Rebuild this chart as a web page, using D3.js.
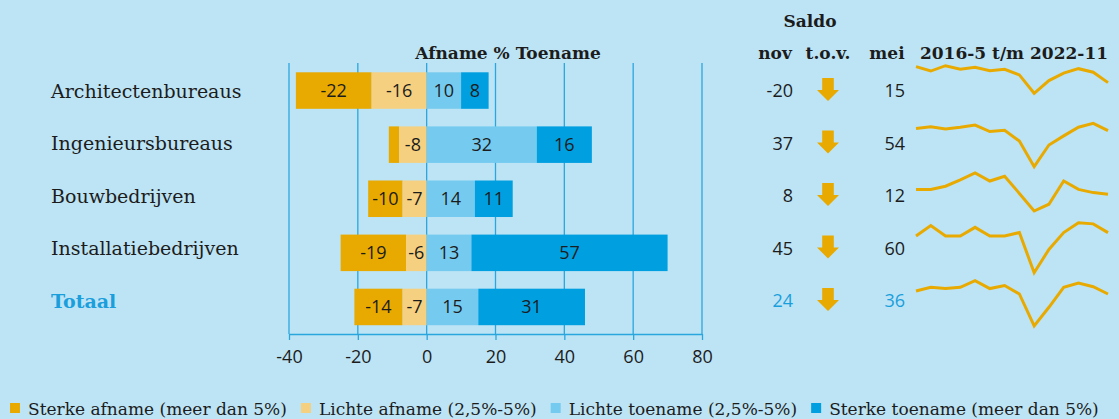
<!DOCTYPE html>
<html>
<head>
<meta charset="utf-8">
<script src="https://cdn.jsdelivr.net/npm/d3@7"></script>
<style>
  html, body { margin: 0; padding: 0; background: #bde4f5; }
  svg { display: block; }
</style>
</head>
<body>
<svg id="chart" width="1119" height="419"></svg>
<script>
// data
const categories = ["Architectenbureaus", "Ingenieursbureaus", "Bouwbedrijven", "Installatiebedrijven", "Totaal"];
const series = ["Sterke afname (meer dan 5%)", "Lichte afname (2,5%-5%)", "Lichte toename (2,5%-5%)", "Sterke toename (meer dan 5%)"];
const sterkeAfname = [-22, -3, -10, -19, -14];
const lichteAfname = [-16, -8, -7, -6, -7];
const lichteToename = [10, 32, 14, 13, 15];
const sterkeToename = [8, 16, 11, 57, 31];
const saldoNov = [-20, 37, 8, 45, 24];
const saldoMei = [15, 54, 12, 60, 36];
const xTicks = [-40, -20, 0, 20, 40, 60, 80];
const periods = ["2016-5", "2016-11", "2017-5", "2017-11", "2018-5", "2018-11", "2019-5",
  "2019-11", "2020-5", "2020-11", "2021-5", "2021-11", "2022-5", "2022-11"];
const sparkArch = [34, 19, 37, 25, 32, 20, 25, 6, -56, -13, 12, 27, 15, -20];
const sparkIng = [42, 46, 41, 45, 50, 35, 38, 13, -46, 4, 25, 45, 54, 37];
const sparkBouw = [20, 20, 28, 44, 61, 41, 53, 10, -34, -17, 41, 20, 12, 8];
const sparkInst = [39, 57, 39, 39, 54, 39, 39, 45, -24, 16, 45, 62, 60, 45];
const sparkTot = [29, 35, 33, 35, 46, 33, 38, 24, -29, 2, 35, 42, 36, 24];

// kleuren en layout
const colors = ["#e8aa00", "#f5d080", "#75cbef", "#009fe0"];
const blue = "#1a9fdc";
const dark = "#1c1c1c";
const serif = "'DejaVu Serif', serif";
const sans = "'Open Sans', sans-serif";
// verticale ruimte per sparkline (boven, onder)
const sparkBands = [[65.7, 93.3], [123.3, 166.7], [173, 211], [222.7, 272.7], [280.7, 326]];

const svg = d3.select("#chart");

const x = d3.scaleLinear().domain([-40, 80]).range([289, 702]);
const yBar = d3.scaleBand().domain(categories).range([63.5, 334])
  .paddingInner(0.325).paddingOuter(0.1625);
const yLabel = d3.scalePoint().domain(categories).range([91, 301]);

// rasterlijnen
svg.append("g")
  .selectAll("line")
  .data(xTicks)
  .join("line")
  .attr("x1", d => x(d)).attr("x2", d => x(d))
  .attr("y1", 63).attr("y2", 334)
  .attr("stroke", "#2aa6de").attr("stroke-width", 1.3);

// x-as
const axis = svg.append("g")
  .attr("transform", "translate(0,334)")
  .call(d3.axisBottom(x).tickValues(xTicks).tickFormat(d => String(d))
    .tickSize(6).tickSizeOuter(0).tickPadding(10));
axis.select(".domain").attr("stroke", "#2aa6de").attr("stroke-width", 1.5);
axis.selectAll(".tick line").attr("stroke", "#2aa6de").attr("stroke-width", 1.3);
axis.selectAll("text")
  .attr("fill", dark)
  .style("font-family", sans)
  .style("font-size", "18px");

// gestapelde balken
const rows = categories.map((c, i) => {
  const neg = [sterkeAfname[i], lichteAfname[i]];
  const pos = [lichteToename[i], sterkeToename[i]];
  return [
    { cat: c, k: 0, x0: neg[0] + neg[1], x1: neg[1], v: neg[0] },
    { cat: c, k: 1, x0: neg[1], x1: 0, v: neg[1] },
    { cat: c, k: 2, x0: 0, x1: pos[0], v: pos[0] },
    { cat: c, k: 3, x0: pos[0], x1: pos[0] + pos[1], v: pos[1] }
  ];
}).flat();

svg.append("g")
  .selectAll("rect")
  .data(rows)
  .join("rect")
  .attr("x", d => x(Math.min(d.x0, d.x1)))
  .attr("width", d => Math.abs(x(d.x1) - x(d.x0)))
  .attr("y", d => yBar(d.cat))
  .attr("height", yBar.bandwidth())
  .attr("fill", d => colors[d.k]);

svg.append("g")
  .selectAll("text")
  .data(rows.filter(d => Math.abs(x(d.x1) - x(d.x0)) > 16))
  .join("text")
  .attr("x", d => (x(d.x0) + x(d.x1)) / 2)
  .attr("y", d => yBar(d.cat) + yBar.bandwidth() / 2)
  .attr("dy", "0.36em")
  .attr("text-anchor", "middle")
  .attr("fill", dark)
  .style("font-family", sans)
  .style("font-size", "18px")
  .text(d => d.v);

// categorie labels
svg.append("g")
  .selectAll("text")
  .data(categories)
  .join("text")
  .attr("x", 51)
  .attr("y", d => yLabel(d))
  .attr("dy", "0.36em")
  .attr("fill", d => d === "Totaal" ? blue : dark)
  .style("font-family", serif)
  .style("font-size", "19px")
  .style("font-weight", d => d === "Totaal" ? "bold" : "normal")
  .text(d => d);

// koppen
const head = svg.append("g")
  .style("font-family", serif)
  .style("font-size", "17px")
  .style("font-weight", "bold")
  .attr("fill", dark);
head.append("text").attr("x", 508).attr("y", 59).attr("text-anchor", "middle").text("Afname % Toename");
head.append("text").attr("x", 810).attr("y", 27).attr("text-anchor", "middle").text("Saldo");
head.append("text").attr("x", 775).attr("y", 59).attr("text-anchor", "middle").text("nov");
head.append("text").attr("x", 828).attr("y", 59).attr("text-anchor", "middle").text("t.o.v.");
head.append("text").attr("x", 887).attr("y", 59).attr("text-anchor", "middle").text("mei");
head.append("text").attr("x", 1014).attr("y", 59).attr("text-anchor", "middle").text("2016-5 t/m 2022-11");

// saldo waarden
const saldo = svg.append("g").style("font-family", sans).style("font-size", "18px");
saldo.selectAll("text.nov")
  .data(categories)
  .join("text")
  .attr("class", "nov")
  .attr("x", 793)
  .attr("y", d => yLabel(d))
  .attr("dy", "0.36em")
  .attr("text-anchor", "end")
  .attr("fill", d => d === "Totaal" ? blue : dark)
  .text((d, i) => saldoNov[i]);
saldo.selectAll("text.mei")
  .data(categories)
  .join("text")
  .attr("class", "mei")
  .attr("x", 905)
  .attr("y", d => yLabel(d))
  .attr("dy", "0.36em")
  .attr("text-anchor", "end")
  .attr("fill", d => d === "Totaal" ? blue : dark)
  .text((d, i) => saldoMei[i]);

// pijlen (nov lager dan mei -> omlaag)
svg.append("g")
  .selectAll("path")
  .data(categories)
  .join("path")
  .attr("transform", d => `translate(828,${yLabel(d) - 13})`)
  .attr("d", (d, i) => saldoNov[i] < saldoMei[i]
    ? "M-5.8,0 L5.8,0 L5.8,12 L11,12 L0,23 L-11,12 L-5.8,12 Z"
    : "M-5.8,23 L5.8,23 L5.8,11 L11,11 L0,0 L-11,11 L-5.8,11 Z")
  .attr("fill", "#e8aa00");

// sparklines
const sparks = [sparkArch, sparkIng, sparkBouw, sparkInst, sparkTot];
const xs = d3.scalePoint().domain(periods).range([916, 1108]);
sparks.forEach((vals, i) => {
  const ys = d3.scaleLinear().domain(d3.extent(vals)).range([sparkBands[i][1], sparkBands[i][0]]);
  const line = d3.line().x((d, j) => xs(periods[j])).y(d => ys(d));
  svg.append("path")
    .datum(vals)
    .attr("d", line)
    .attr("fill", "none")
    .attr("stroke", "#e8aa00")
    .attr("stroke-width", 3)
    .attr("stroke-linejoin", "miter");
});

// legenda
const legend = svg.append("g")
  .style("font-family", serif)
  .style("font-size", "17px");
let lx = 10;
series.forEach((s, i) => {
  legend.append("rect").attr("x", lx).attr("y", 403).attr("width", 10).attr("height", 10).attr("fill", colors[i]);
  const t = legend.append("text").attr("x", lx + 18).attr("y", 414.5).attr("fill", dark).text(s);
  lx += 18 + t.node().getComputedTextLength() + 14;
});
</script>
</body>
</html>
